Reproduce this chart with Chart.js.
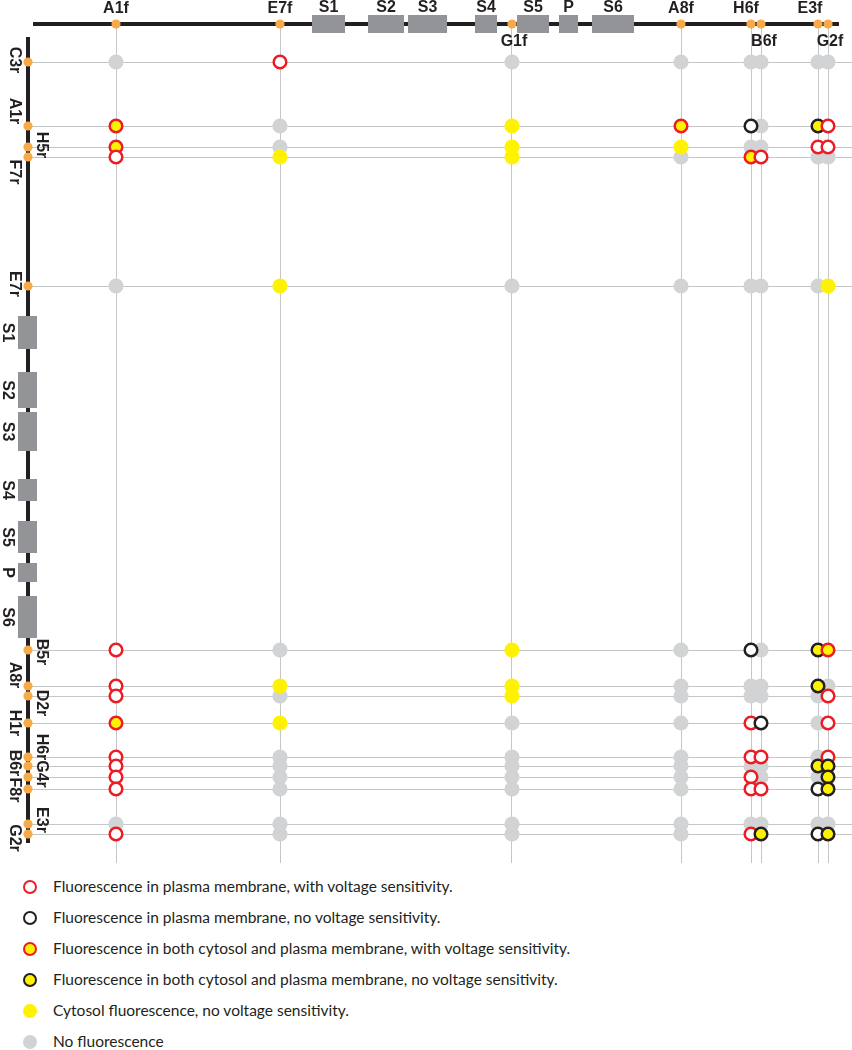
<!DOCTYPE html>
<html lang="en">
<head>
<meta charset="utf-8">
<title>Primer pairs - fluorescence screen</title>
<script src="https://cdn.jsdelivr.net/npm/chart.js@4.4.1/dist/chart.umd.min.js"></script>
<style>
  html, body { margin: 0; padding: 0; background: #fff; }
  #page { position: relative; width: 852px; height: 1050px; overflow: hidden; }
  #chart { position: absolute; left: 0; top: 0; }
  #legend { position: absolute; left: 0; top: 871px; margin: 0; padding: 0; list-style: none;
            font-family: Lato, "Open Sans", sans-serif; font-size: 15.5px; color: #231f20; }
  #legend li { position: relative; height: 31px; line-height: 31px; padding-left: 53px; white-space: nowrap; }
  #legend .mk { position: absolute; left: 23px; top: 8.5px; width: 14px; height: 14px;
                border-radius: 50%; box-sizing: border-box; }
</style>
</head>
<body>
<div id="page">
  <canvas id="chart" width="852" height="870"></canvas>
  <ul id="legend"></ul>
</div>
<script>
// ==================== DATA ====================
// primer positions along the channel gene (same units on both axes)
const forwardPrimers = ['A1f', 'E7f', 'G1f', 'A8f', 'H6f', 'B6f', 'E3f', 'G2f'];
const forwardPos = [83, 247, 479, 648, 718, 728, 785, 795];

const reversePrimers = ['C3r', 'A1r', 'H5r', 'F7r', 'E7r', 'B5r', 'A8r', 'D2r', 'H1r', 'H6r', 'B6r', 'G4r', 'F8r', 'E3r', 'G2r'];
const reversePos = [25, 89, 110, 120, 249, 613, 649, 659, 686, 720, 729, 740, 752, 787, 797];

// transmembrane segments + pore
const segNames = ['S1', 'S2', 'S3', 'S4', 'S5', 'P', 'S6'];
const segStart = [279, 335, 375, 442, 484, 526, 559];
const segEnd = [312, 371, 414, 464, 516, 545, 601];
const geneSpan = [0, 806];

// R = membrane + voltage, K = membrane only, RY / KY = cytosol + membrane,
// Y = cytosol only, G = no fluorescence
const results = [
    // A1f  E7f  G1f  A8f  H6f  B6f  E3f  G2f
    ['G',  'R',  'G',  'G',  'G',  'G',  'G',  'G'],   // C3r
    ['RY', 'G',  'Y',  'RY', 'K',  'G',  'KY', 'R'],   // A1r
    ['RY', 'G',  'Y',  'Y',  'G',  'G',  'R',  'R'],   // H5r
    ['R',  'Y',  'Y',  'G',  'RY', 'R',  'G',  'G'],   // F7r
    ['G',  'Y',  'G',  'G',  'G',  'G',  'G',  'Y'],   // E7r
    ['R',  'G',  'Y',  'G',  'K',  'G',  'KY', 'RY'],  // B5r
    ['R',  'Y',  'Y',  'G',  'G',  'G',  'KY', 'G'],   // A8r
    ['R',  'G',  'Y',  'G',  'G',  'G',  'G',  'R'],   // D2r
    ['RY', 'Y',  'G',  'G',  'R',  'K',  'G',  'R'],   // H1r
    ['R',  'G',  'G',  'G',  'R',  'R',  'G',  'R'],   // H6r
    ['R',  'G',  'G',  'G',  'G',  'G',  'KY', 'KY'],  // B6r
    ['R',  'G',  'G',  'G',  'R',  'G',  'G',  'KY'],  // G4r
    ['R',  'G',  'G',  'G',  'R',  'R',  'K',  'KY'],  // F8r
    ['G',  'G',  'G',  'G',  'G',  'G',  'G',  'G'],   // E3r
    ['R',  'G',  'G',  'G',  'R',  'KY', 'K',  'KY']   // G2r
];

const legendCodes = ['R', 'K', 'RY', 'KY', 'Y', 'G'];
const legendLabels = [
    'Fluorescence in plasma membrane, with voltage sensitivity.',
    'Fluorescence in plasma membrane, no voltage sensitivity.',
    'Fluorescence in both cytosol and plasma membrane, with voltage sensitivity.',
    'Fluorescence in both cytosol and plasma membrane, no voltage sensitivity.',
    'Cytosol fluorescence, no voltage sensitivity.',
    'No fluorescence'
];

// ==================== STYLES ====================
const RED = '#ed1c24', YELLOW = '#fff200', GRAY = '#d1d3d4', BLACK = '#231f20';
const ORANGE = '#f8a948', BOX = '#929497', GRID = '#c4c6c8';
const FONT = '"Liberation Sans", Arial, sans-serif';

const markerStyle = {
    R:  { fill: '#ffffff', stroke: RED,   ring: true },
    K:  { fill: '#ffffff', stroke: BLACK, ring: true },
    RY: { fill: YELLOW,    stroke: RED,   ring: true },
    KY: { fill: YELLOW,    stroke: BLACK, ring: true },
    Y:  { fill: YELLOW,    stroke: YELLOW, ring: false },
    G:  { fill: GRAY,      stroke: GRAY,  ring: false }
};

// scale extents: the gene axes sit on the chart area edges
const xRange = [-5, 819];
const yRange = [-13, 826];

// label placement (side / shift in px) for crowded primers
const fwdLabelLayout = {
    G1f: { below: true, dx: 2 }, B6f: { below: true, dx: 3 }, G2f: { below: true, dx: 2 },
    H6f: { dx: -5 }, E3f: { dx: -8 }
};
const revLabelLayout = {
    C3r: ['L', -2], A1r: ['L', -15], H5r: ['R', -2], F7r: ['L', 15], E7r: ['L', -2],
    B5r: ['R', 2], A8r: ['L', -11], D2r: ['R', 7], H1r: ['L', 0], H6r: ['R', -10],
    B6r: ['L', -3], G4r: ['R', -3], F8r: ['L', 1], E3r: ['R', -4], G2r: ['L', 4]
};

// ==================== DATASETS ====================
const cells = [];
reversePrimers.forEach((r, i) => {
    forwardPrimers.forEach((f, j) => {
        cells.push({ x: forwardPos[j], y: reversePos[i], code: results[i][j], col: j });
    });
});

const pointStyleFor = {
    pointBackgroundColor: ctx => markerStyle[ctx.raw.code].fill,
    pointBorderColor: ctx => markerStyle[ctx.raw.code].stroke,
    pointBorderWidth: ctx => markerStyle[ctx.raw.code].ring ? 2.5 : 0,
    pointRadius: ctx => markerStyle[ctx.raw.code].ring ? 6.3 : 7.6,
    pointHoverRadius: ctx => markerStyle[ctx.raw.code].ring ? 6.3 : 7.6
};

const datasets = [];

// primer sites on the two gene axes
datasets.push({
    label: 'Primers',
    data: forwardPos.map(v => ({ x: v, y: yRange[0] }))
        .concat(reversePos.map(v => ({ x: xRange[0], y: v }))),
    pointBackgroundColor: ORANGE,
    pointBorderWidth: 0,
    pointRadius: 4.6,
    clip: false,
    order: 0
});

// coloured results, one dataset per forward primer so later columns overlap earlier ones
forwardPrimers.forEach((f, j) => {
    datasets.push(Object.assign({
        label: f,
        data: cells.filter(c => c.col === j && c.code !== 'G'),
        order: 50 - j
    }, pointStyleFor));
});

// no fluorescence goes underneath everything
datasets.push(Object.assign({
    label: 'No fluorescence',
    data: cells.filter(c => c.code === 'G'),
    order: 100
}, pointStyleFor));

// ==================== GENE DIAGRAM ====================
const geneDiagram = {
    id: 'geneDiagram',
    beforeDatasetsDraw(chart) {
        const { ctx, scales: { x, y } } = chart;
        const axisY = y.getPixelForValue(yRange[0]);
        const axisX = x.getPixelForValue(xRange[0]);

        ctx.save();
        ctx.strokeStyle = BLACK;
        ctx.lineWidth = 4;
        ctx.beginPath();
        ctx.moveTo(x.getPixelForValue(geneSpan[0]), axisY);
        ctx.lineTo(x.getPixelForValue(geneSpan[1]), axisY);
        ctx.moveTo(axisX, y.getPixelForValue(geneSpan[0]));
        ctx.lineTo(axisX, y.getPixelForValue(geneSpan[1]));
        ctx.stroke();

        ctx.fillStyle = BOX;
        segNames.forEach((name, i) => {
            const x0 = x.getPixelForValue(segStart[i]), x1 = x.getPixelForValue(segEnd[i]);
            ctx.fillRect(x0, axisY - 9, x1 - x0, 18);
            const y0 = y.getPixelForValue(segStart[i]), y1 = y.getPixelForValue(segEnd[i]);
            ctx.fillRect(axisX - 10, y0, 19, y1 - y0);
        });

        ctx.fillStyle = BLACK;
        ctx.font = 'bold 16px ' + FONT;
        ctx.textAlign = 'center';
        ctx.textBaseline = 'middle';

        segNames.forEach((name, i) => {
            ctx.fillText(name, x.getPixelForValue((segStart[i] + segEnd[i]) / 2), axisY - 16);
            rotatedText(ctx, name, axisX - 21, y.getPixelForValue((segStart[i] + segEnd[i]) / 2));
        });

        forwardPrimers.forEach((name, j) => {
            const lay = fwdLabelLayout[name] || {};
            const px = x.getPixelForValue(forwardPos[j]) + (lay.dx || 0);
            ctx.fillText(name, px, lay.below ? axisY + 18 : axisY - 15);
        });

        reversePrimers.forEach((name, i) => {
            const [side, dy] = revLabelLayout[name];
            const py = y.getPixelForValue(reversePos[i]) + dy;
            rotatedText(ctx, name, side === 'L' ? axisX - 14 : axisX + 13, py);
        });
        ctx.restore();
    }
};

function rotatedText(ctx, text, cx, cy) {
    ctx.save();
    ctx.translate(cx, cy);
    ctx.rotate(Math.PI / 2);
    ctx.fillText(text, 0, 0);
    ctx.restore();
}

// ==================== CHART ====================
const hiddenAxis = (positions, range, reverse) => ({
    type: 'linear',
    min: range[0],
    max: range[1],
    reverse: reverse,
    afterBuildTicks: scale => { scale.ticks = positions.map(v => ({ value: v })); },
    ticks: { display: false },
    grid: { color: GRID, lineWidth: 1, drawTicks: false },
    border: { display: false }
});

new Chart(document.getElementById('chart'), {
    type: 'scatter',
    data: { datasets },
    options: {
        responsive: false,
        animation: false,
        events: [],
        devicePixelRatio: 1,
        layout: { autoPadding: false, padding: { left: 28, top: 24, right: 0, bottom: 7 } },
        plugins: { legend: { display: false }, tooltip: { enabled: false } },
        scales: {
            x: hiddenAxis(forwardPos, xRange, false),
            y: hiddenAxis(reversePos, yRange, true)
        }
    },
    plugins: [geneDiagram]
});

// ==================== LEGEND ====================
document.getElementById('legend').innerHTML = legendCodes.map((code, i) => {
    const s = markerStyle[code];
    const border = s.ring ? `border:2.6px solid ${s.stroke};` : '';
    return `<li><span class="mk" style="background:${s.fill};${border}"></span>${legendLabels[i]}</li>`;
}).join('');
</script>
</body>
</html>
